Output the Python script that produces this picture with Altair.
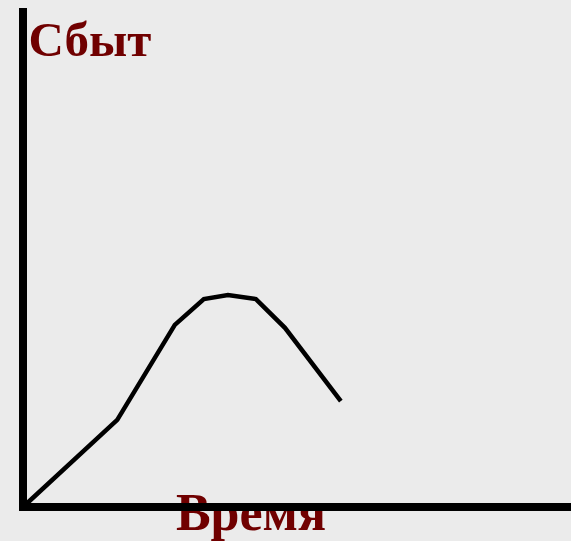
import altair as alt
import pandas as pd

# Product life-cycle curve: sales over time (arbitrary units)
time = [0, 17.2, 27.7, 33.0, 37.4, 42.5, 47.8, 58.0]
sales = [0, 17.6, 36.8, 42.0, 42.8, 42.0, 36.2, 21.4]

x_title = "Время"
y_title = "Сбыт"

curve = pd.DataFrame({"t": time, "s": sales})
labels = pd.DataFrame({
    "t": [1.0, 27.9], "s": [91.1, -4.65],
    "txt": [y_title, x_title], "size": [49, 52],
})
axes_v = pd.DataFrame({"t": [0], "s": [0], "s2": [100]})
axes_h = pd.DataFrame({"t": [0], "t2": [100], "s": [0]})

xs = alt.Scale(domain=[0, 100], nice=False, zero=False)
ys = alt.Scale(domain=[0, 100], nice=False, zero=False)
X = alt.X("t:Q", scale=xs, axis=None)
Y = alt.Y("s:Q", scale=ys, axis=None)

# Axis titles sit underneath the axis rules
text = alt.Chart(labels).mark_text(
    align="left", baseline="alphabetic", font="Liberation Serif",
    fontWeight="bold", color="#700000"
).encode(
    x=X, y=Y, text="txt:N",
    size=alt.Size("size:Q", scale=None, legend=None),
)

v_axis = alt.Chart(axes_v).mark_rule(color="black", strokeWidth=8, strokeCap="square").encode(
    x=X, y=Y, y2="s2:Q")
h_axis = alt.Chart(axes_h).mark_rule(color="black", strokeWidth=8, strokeCap="square").encode(
    x=X, x2="t2:Q", y=Y)

line = alt.Chart(curve).mark_line(color="black", strokeWidth=4.5).encode(x=X, y=Y)

chart = alt.layer(text, line, v_axis, h_axis).properties(
    width=548, height=495,
    padding={"left": 23, "top": 12, "right": 0, "bottom": 34},
    autosize=alt.AutoSizeParams(type="none"),
    background="#ebebeb",
).configure_view(stroke=None, fill="#ebebeb")

chart.save("out.html", embed_options={"renderer": "svg", "actions": False})
